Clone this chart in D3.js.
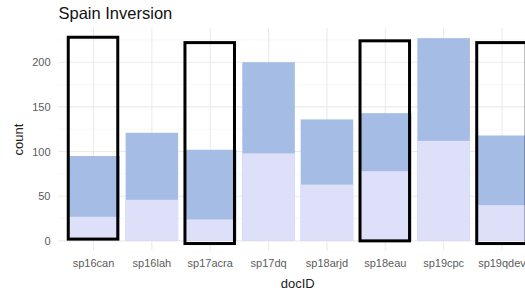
<!DOCTYPE html>
<html>
<head>
<meta charset="utf-8">
<script src="https://cdn.jsdelivr.net/npm/d3@7"></script>
<style>
  body { margin: 0; background: #fff; }
  text { font-family: "Liberation Sans", Arial, sans-serif; }
</style>
</head>
<body>
<div id="chart"></div>
<script>
// data
const docIDs = ['sp16can', 'sp16lah', 'sp17acra', 'sp17dq', 'sp18arjd', 'sp18eau', 'sp19cpc', 'sp19qdev'];
const totalCount = [95, 121, 102, 200, 136, 143, 227, 118];
const subsetCount = [27, 46, 24, 98, 63, 78, 112, 40];
const yTicks = [0, 50, 100, 150, 200];

// hand-drawn highlight boxes (top / bottom in count units)
const boxIDs = ['sp16can', 'sp17acra', 'sp18eau', 'sp19qdev'];
const boxTop = [228, 222, 224, 222];
const boxBottom = [2, -3, 0, -3];

const width = 525, height = 292;
const margin = { top: 28, right: -12, bottom: 41, left: 58.5 };

const svg = d3.select('#chart').append('svg')
  .attr('width', width)
  .attr('height', height);

const x = d3.scaleBand()
  .domain(docIDs)
  .range([margin.left, width - margin.right])
  .paddingInner(0.1)
  .paddingOuter(0.15);

const yMax = d3.max(totalCount);
const pad = yMax * 0.05;
const y = d3.scaleLinear()
  .domain([-pad, yMax + pad])
  .range([height - margin.bottom, margin.top]);

// grid
const grid = svg.append('g');
const minor = d3.range(25, yMax + pad, 50);
grid.selectAll('.minor').data(minor).enter().append('line')
  .attr('x1', margin.left).attr('x2', width - margin.right)
  .attr('y1', d => y(d)).attr('y2', d => y(d))
  .attr('stroke', '#f4f4f4').attr('stroke-width', 0.6);
grid.selectAll('.major').data(yTicks).enter().append('line')
  .attr('x1', margin.left).attr('x2', width - margin.right)
  .attr('y1', d => y(d)).attr('y2', d => y(d))
  .attr('stroke', '#ebebeb').attr('stroke-width', 1.1);
grid.selectAll('.vmajor').data(docIDs).enter().append('line')
  .attr('x1', d => x(d) + x.bandwidth() / 2).attr('x2', d => x(d) + x.bandwidth() / 2)
  .attr('y1', margin.top).attr('y2', height - margin.bottom)
  .attr('stroke', '#ebebeb').attr('stroke-width', 1.1);

// bars
svg.append('g').selectAll('rect').data(docIDs).enter().append('rect')
  .attr('x', d => x(d))
  .attr('width', x.bandwidth())
  .attr('y', (d, i) => y(totalCount[i]))
  .attr('height', (d, i) => y(0) - y(totalCount[i]))
  .attr('fill', '#a5bce4');

svg.append('g').selectAll('rect').data(docIDs).enter().append('rect')
  .attr('x', d => x(d))
  .attr('width', x.bandwidth())
  .attr('y', (d, i) => y(subsetCount[i]))
  .attr('height', (d, i) => y(0) - y(subsetCount[i]))
  .attr('fill', '#dde0f8');

// axes
const yAxis = d3.axisLeft(y).tickValues(yTicks).tickSize(0).tickPadding(8);
svg.append('g')
  .attr('transform', 'translate(' + margin.left + ',0)')
  .call(yAxis)
  .call(g => g.select('.domain').remove())
  .selectAll('text')
  .attr('fill', '#5c5c5c')
  .style('font-size', '11px');

const xAxis = d3.axisBottom(x).tickSize(0).tickPadding(8);
svg.append('g')
  .attr('transform', 'translate(0,' + (height - margin.bottom) + ')')
  .call(xAxis)
  .call(g => g.select('.domain').remove())
  .selectAll('text')
  .attr('fill', '#5c5c5c')
  .style('font-size', '11px');

// annotation boxes
svg.append('g').selectAll('rect').data(boxIDs).enter().append('rect')
  .attr('x', d => x(d) + 1)
  .attr('width', x.bandwidth() - 3)
  .attr('y', (d, i) => y(boxTop[i]))
  .attr('height', (d, i) => y(boxBottom[i]) - y(boxTop[i]))
  .attr('fill', 'none')
  .attr('stroke', '#000')
  .attr('stroke-width', 3);

// labels
svg.append('text')
  .attr('x', margin.left).attr('y', 19)
  .style('font-size', '16.5px')
  .attr('fill', '#111')
  .text('Spain Inversion');

svg.append('text')
  .attr('x', (margin.left + width - margin.right) / 2)
  .attr('y', 288)
  .attr('text-anchor', 'middle')
  .style('font-size', '13px')
  .attr('fill', '#222')
  .text('docID');

svg.append('text')
  .attr('transform', 'translate(23,' + ((margin.top + height - margin.bottom) / 2) + ') rotate(-90)')
  .attr('text-anchor', 'middle')
  .style('font-size', '13px')
  .attr('fill', '#222')
  .text('count');
</script>
</body>
</html>
